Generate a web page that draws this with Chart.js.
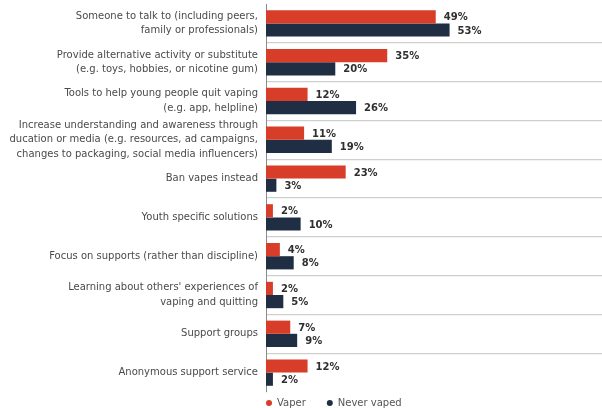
<!DOCTYPE html>
<html>
<head>
<meta charset="utf-8">
<script src="https://cdn.jsdelivr.net/npm/chart.js@4"></script>
<style>
  html, body { margin: 0; padding: 0; background: #ffffff; }
  #wrap { width: 602px; height: 408px; }
</style>
</head>
<body>
<div id="wrap"><canvas id="c" width="602" height="408"></canvas></div>
<script>
const categories = [
  ["Someone to talk to (including peers,", "family or professionals)"],
  ["Provide alternative activity or substitute", "(e.g. toys, hobbies, or nicotine gum)"],
  ["Tools to help young people quit vaping", "(e.g. app, helpline)"],
  ["Increase understanding and awareness through", "ducation or media (e.g. resources, ad campaigns,", "changes to packaging, social media influencers)"],
  "Ban vapes instead",
  "Youth specific solutions",
  "Focus on supports (rather than discipline)",
  ["Learning about others' experiences of", "vaping and quitting"],
  "Support groups",
  "Anonymous support service"
];
const vaper = [49, 35, 12, 11, 23, 2, 4, 2, 7, 12];
const neverVaped = [53, 20, 26, 19, 3, 10, 8, 5, 9, 2];
const seriesNames = ["Vaper", "Never vaped"];
const seriesColors = ["#D73D28", "#1F2E42"];

const valueLabels = {
  id: 'valueLabels',
  afterDatasetsDraw(chart) {
    const ctx = chart.ctx;
    ctx.save();
    ctx.font = 'bold 10px "DejaVu Sans", sans-serif';
    ctx.fillStyle = '#2f2f2f';
    ctx.textBaseline = 'middle';
    ctx.textAlign = 'left';
    chart.data.datasets.forEach((ds, di) => {
      const meta = chart.getDatasetMeta(di);
      meta.data.forEach((el, i) => {
        ctx.fillText(ds.data[i] + '%', el.x + 8, el.y + 1);
      });
    });
    ctx.restore();
  }
};

const customLegend = {
  id: 'customLegend',
  afterDraw(chart) {
    const ctx = chart.ctx;
    const area = chart.chartArea;
    let x = area.left + 3;
    const y = area.bottom + 11;
    ctx.save();
    ctx.font = '10px "DejaVu Sans", sans-serif';
    ctx.textBaseline = 'middle';
    chart.data.datasets.forEach((ds) => {
      ctx.fillStyle = ds.backgroundColor;
      ctx.beginPath();
      ctx.arc(x, y, 3, 0, Math.PI * 2);
      ctx.fill();
      ctx.fillStyle = '#555555';
      ctx.fillText(ds.label, x + 8, y);
      x += 8 + ctx.measureText(ds.label).width + 24;
    });
    ctx.restore();
  }
};

new Chart(document.getElementById('c'), {
  type: 'bar',
  data: {
    labels: categories,
    datasets: [
      { label: seriesNames[0], data: vaper, backgroundColor: seriesColors[0] },
      { label: seriesNames[1], data: neverVaped, backgroundColor: seriesColors[1] }
    ]
  },
  options: {
    indexAxis: 'y',
    responsive: false,
    animation: false,
    devicePixelRatio: 1,
    categoryPercentage: 0.68,
    barPercentage: 1.0,
    layout: { padding: { top: 4, bottom: 16, right: 0, left: 0 } },
    plugins: {
      legend: { display: false },
      tooltip: { enabled: false }
    },
    scales: {
      x: {
        display: false,
        min: 0,
        max: 97,
        grid: { display: false }
      },
      y: {
        afterFit(scale) { scale.width = 266; scale.paddingTop = 0; scale.paddingBottom = 0; },
        border: { display: true, color: '#8a8a8a', width: 1 },
        grid: {
          offset: true,
          drawTicks: false,
          lineWidth: 1.2,
          color(ctx) {
            if (ctx.index === undefined || ctx.index === 0) return 'rgba(0,0,0,0)';
            return '#cfcfcf';
          }
        },
        ticks: {
          autoSkip: false,
          padding: 8,
          color: '#4a4a4a',
          font: { family: '"DejaVu Sans", sans-serif', size: 10, lineHeight: 1.45 }
        }
      }
    }
  },
  plugins: [valueLabels, customLegend]
});
</script>
</body>
</html>
